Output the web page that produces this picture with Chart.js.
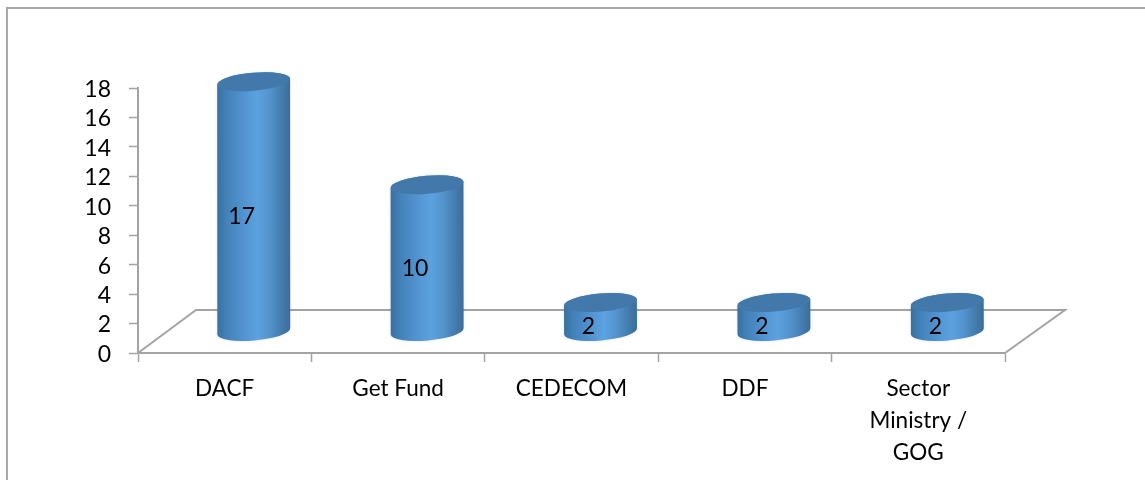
<!DOCTYPE html>
<html>
<head>
<meta charset="utf-8">
<style>html,body{margin:0;padding:0;background:#fff;overflow:hidden}canvas{display:block}</style>
<script src="https://cdn.jsdelivr.net/npm/chart.js@4"></script>
</head>
<body>
<div style="width:1145px;height:480px;position:relative"><canvas id="c"></canvas></div>
<script>
const categories = ["DACF", "Get Fund", "CEDECOM", "DDF", ["Sector", "Ministry /", "GOG"]];
const values = [17, 10, 2, 2, 2];
const yTicks = [0, 2, 4, 6, 8, 10, 12, 14, 16, 18];
const FONT = 'Lato, Carlito, sans-serif';
const GRAY = '#a3a3a3';
const DX = 29, DY = 21, RX = 36.5, RY = 9, TILT = -0.085;

const frame = {
  id: 'frame',
  beforeDraw(ch) {
    const c = ch.ctx; c.save();
    c.strokeStyle = '#a8a8a8'; c.lineWidth = 2;
    c.beginPath();
    c.moveTo(7, 480); c.lineTo(7, 8); c.lineTo(1145, 8);
    c.stroke();
    c.restore();
  }
};
const floor = {
  id: 'floor',
  beforeDatasetsDraw(ch) {
    const c = ch.ctx, a = ch.chartArea; c.save();
    c.strokeStyle = GRAY; c.lineWidth = 2; c.lineJoin = 'miter';
    c.beginPath();
    c.moveTo(a.left, a.bottom);
    c.lineTo(a.left + 58, a.bottom - 43);
    c.lineTo(a.right + 60, a.bottom - 43);
    c.lineTo(a.right, a.bottom);
    c.stroke();
    c.restore();
  }
};
const cyl = {
  id: 'cyl',
  afterDatasetsDraw(ch) {
    const c = ch.ctx;
    ch.getDatasetMeta(0).data.forEach((el, i) => {
      const cx = el.x + DX, top = el.y - DY, base = el.base - DY;
      const g = c.createLinearGradient(cx - RX, 0, cx + RX, 0);
      g.addColorStop(0, '#39709f');
      g.addColorStop(0.12, '#4280b8');
      g.addColorStop(0.32, '#4f90cc');
      g.addColorStop(0.55, '#5ca2e0');
      g.addColorStop(0.72, '#5393cd');
      g.addColorStop(0.9, '#427aab');
      g.addColorStop(1, '#3b6d99');
      c.save();
      c.shadowColor = 'rgba(0,0,0,0.12)'; c.shadowBlur = 3;
      c.beginPath();
      c.ellipse(cx, base, RX, RY, TILT, 0, Math.PI);
      c.lineTo(cx - RX, top + 3);
      c.ellipse(cx, top, RX, RY, TILT, Math.PI, 2 * Math.PI);
      c.lineTo(cx + RX, base - 3);
      c.closePath();
      c.fillStyle = g; c.fill();
      c.shadowBlur = 0;
      c.beginPath();
      c.ellipse(cx, top, RX, RY, TILT, 0, 2 * Math.PI);
      c.fillStyle = '#4279aa'; c.fill();
      c.restore();
      c.save();
      c.fillStyle = '#000'; c.font = '23px ' + FONT;
      c.textAlign = 'center'; c.textBaseline = 'middle';
      c.fillText(String(values[i]), cx - 12, (top + base) / 2 + 10);
      c.restore();
    });
  }
};

new Chart(document.getElementById('c'), {
  type: 'bar',
  data: { labels: categories, datasets: [{ data: values, backgroundColor: 'rgba(0,0,0,0)', borderWidth: 0 }] },
  plugins: [frame, floor, cyl],
  options: {
    responsive: true, maintainAspectRatio: false, animation: false,
    layout: { padding: { top: 88, right: 140, left: 0, bottom: 0 } },
    plugins: { legend: { display: false }, tooltip: { enabled: false } },
    scales: {
      x: {
        afterFit(s) { s.height = 127; },
        border: { color: GRAY, width: 2 },
        grid: { drawOnChartArea: false, tickLength: 9, color: GRAY, tickWidth: 1.5 },
        ticks: { autoSkip: false, maxRotation: 0, minRotation: 0, color: '#000', padding: 11, font: { family: FONT, size: 22.5, lineHeight: 1.42 } }
      },
      y: {
        min: 0, max: 18,
        afterBuildTicks(s) { s.ticks = yTicks.map(v => ({ value: v })); },
        afterFit(s) { s.width = 138; },
        border: { color: GRAY, width: 2 },
        grid: { drawOnChartArea: false, tickLength: 9, color: GRAY, tickWidth: 1.5 },
        ticks: { autoSkip: false, color: '#000', padding: 18, labelOffset: 1.5, font: { family: FONT, size: 23 } }
      }
    }
  }
});
</script>
</body>
</html>
